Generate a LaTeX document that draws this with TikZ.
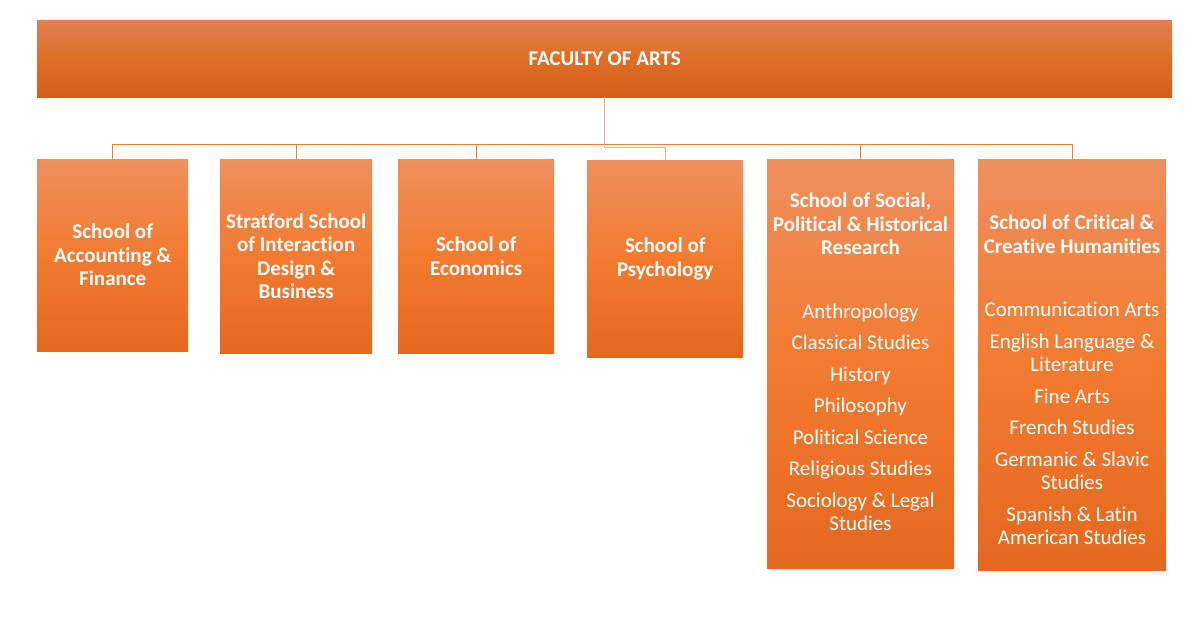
\documentclass[tikz,border=0pt]{standalone}
\usepackage{fontspec}
\setmainfont{Carlito}[RawFeature={-liga;-clig;-calt;-dlig}]
\usepackage{tikz}
\usetikzlibrary{positioning,calc}

\definecolor{boxtop}{HTML}{EF8F5D}
\definecolor{boxmid}{HTML}{F27B30}
\definecolor{boxbot}{HTML}{E4681F}
\definecolor{factop}{HTML}{DE8152}
\definecolor{facmid}{HTML}{DF6E25}
\definecolor{facbot}{HTML}{D3601A}
\definecolor{conn}{HTML}{ED7D31}
\definecolor{connlight}{HTML}{F4B183}

\begin{document}
\begin{tikzpicture}[x=1pt,y=-1pt,
  school/.style={rectangle, anchor=north west, inner sep=0pt,
    top color=boxtop, bottom color=boxbot, middle color=boxmid,
    text=white, align=center, font=\bfseries\fontsize{21}{23.5}\selectfont},
  list/.style={text=white, align=center, inner sep=0pt,
    font=\fontsize{21}{23.5}\selectfont},
  wire/.style={draw=conn, line width=0.9pt}]
  \useasboundingbox (0,0) rectangle (1192,624);
  \node [school, top color=factop, bottom color=facbot, middle color=facmid,
    minimum width=1135pt, minimum height=77pt] (fac) at (37,20) {FACULTY OF ARTS};
  \node [school, minimum width=151pt, minimum height=192pt] (acc) at (37,159)
    {School of\\Accounting \&\\Finance};
  \node [school, minimum width=152pt, minimum height=194pt] (sid) at (220,159)
    {Stratford School\\of Interaction\\Design \&\\Business};
  \node [school, minimum width=156pt, minimum height=194pt] (eco) at (398,159)
    {School of\\Economics};
  \node [school, minimum width=156pt, minimum height=197pt] (psy) at (587,160)
    {School of\\Psychology};
  \node [school, minimum width=187pt, minimum height=409pt] (sph) at (767,159) {};
  \node [school, minimum width=188pt, minimum height=411pt] (cch) at (978,159) {};
  \node [list] (sphtx) at (860.5,362) {\textbf{School of Social,}\\\textbf{Political \& Historical}\\\textbf{Research}\\[40pt]
    Anthropology\\[8pt] Classical Studies\\[8pt] History\\[8pt] Philosophy\\[8pt]
    Political Science\\[8pt] Religious Studies\\[8pt] Sociology \& Legal\\Studies};
  \node [list] (cchtx) at (1072,380) {\textbf{School of Critical \&}\\\textbf{Creative Humanities}\\[40pt]
    Communication Arts\\[8pt] English Language \&\\Literature\\[8pt] Fine Arts\\[8pt]
    French Studies\\[8pt] Germanic \& Slavic\\Studies\\[8pt] Spanish \& Latin\\American Studies};
  % connectors
  \coordinate (bus) at (0,144.5);
  \path[wire] (fac.south) -- (fac.south |- bus);
  \path[wire] (acc.north) |- (cch.north |- bus) -- (cch.north);
  \foreach \n in {sid,eco,sph}
    \path[wire] (\n.north) -- (\n.north |- bus);
  \path[wire, draw=connlight] (fac.south) |- ([yshift=13pt]psy.north) -- (psy.north);
\end{tikzpicture}
\end{document}
